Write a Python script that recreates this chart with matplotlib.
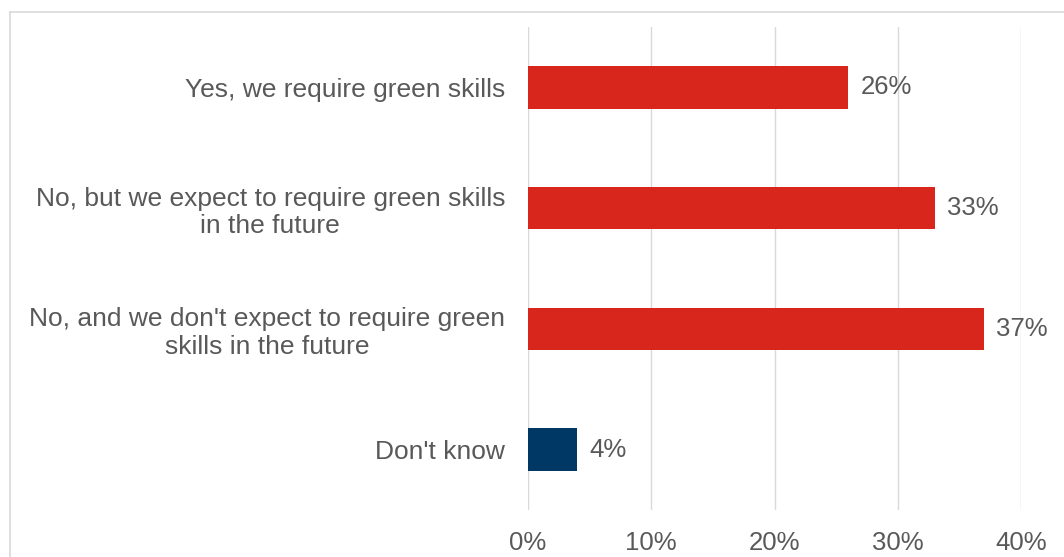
import matplotlib.pyplot as plt
from matplotlib.lines import Line2D

categories = [
    "Yes, we require green skills",
    "No, but we expect to require green skills\nin the future",
    "No, and we don't expect to require green\nskills in the future",
    "Don't know",
]
values = [26, 33, 37, 4]
colors = ["#d9261c", "#d9261c", "#d9261c", "#003865"]
xticks = [0, 10, 20, 30, 40]

plt.rcParams['font.family'] = ['Liberation Sans', 'DejaVu Sans']
text_color = "#595959"

fig = plt.figure(figsize=(10.64, 5.57), dpi=100)
ax = fig.add_axes([528 / 1064, 1 - 510 / 557, (1021 - 528) / 1064, (510 - 27) / 557])

ypos = list(range(len(categories)))
ax.barh(ypos, values, height=0.35, color=colors, zorder=3)
for y, v in zip(ypos, values):
    ax.text(v + 1.0, y, f"{v}%", va='center', ha='left', fontsize=18.5, color=text_color)

ax.set_xlim(0, 40)
ax.set_ylim(len(categories) - 0.5, -0.5)
ax.set_yticks(ypos)
ax.set_yticklabels(categories, fontsize=19, color=text_color, ha='right', multialignment='center')
ax.set_xticks(xticks)
ax.set_xticklabels([f"{t}%" for t in xticks], fontsize=18.5, color=text_color)
ax.tick_params(axis='both', length=0)
ax.tick_params(axis='y', pad=16.5)
ax.tick_params(axis='x', pad=15)
ax.grid(axis='x', color='#d9d9d9', linewidth=1, zorder=0)
for s in ax.spines.values():
    s.set_visible(False)

# outer chart frame (partially cut off in the source)
fig.add_artist(Line2D([10 / 1064, 1.0], [1 - 12 / 557, 1 - 12 / 557], color='#d9d9d9', lw=1.2))
fig.add_artist(Line2D([10 / 1064, 10 / 1064], [0.0, 1 - 12 / 557], color='#d9d9d9', lw=1.2))

fig.savefig('out.png', dpi=100)
